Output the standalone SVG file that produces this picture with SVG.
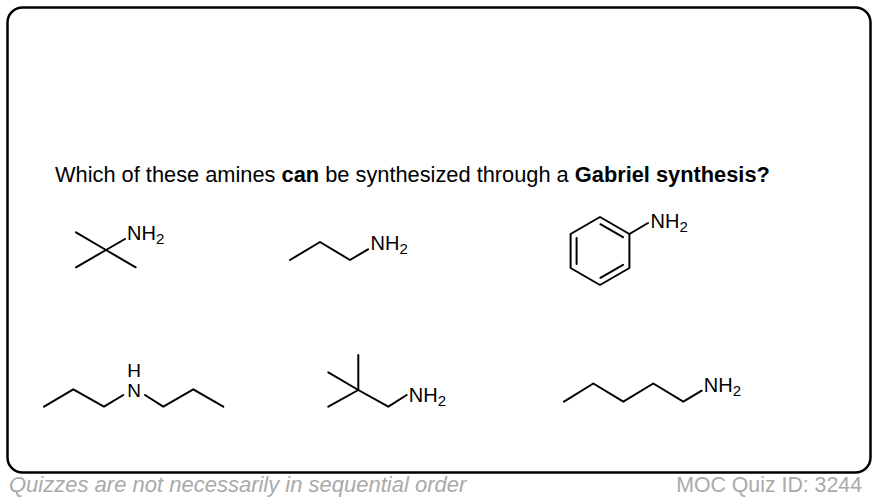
<svg xmlns="http://www.w3.org/2000/svg" width="880" height="502" viewBox="0 0 880 502">
<style>
.b{stroke:#000;stroke-width:2;fill:none;stroke-linecap:round;stroke-linejoin:round}
.lbl{font-family:"Liberation Sans",Arial,Helvetica,sans-serif;font-size:20px;fill:#000}
.sub{font-size:15px}
.title{font-family:"Liberation Sans",Arial,Helvetica,sans-serif;font-size:21.8px;fill:#000}
.foot{font-family:"Liberation Sans",Arial,Helvetica,sans-serif;font-size:22px;fill:#aaaaaa}
</style>
<rect x="7.5" y="7.5" width="863" height="465" rx="15" ry="15" fill="#fff" stroke="#000" stroke-width="2.5"/>
<text class="title" x="55" y="182">Which of these amines <tspan font-weight="bold">can</tspan> be synthesized through a <tspan font-weight="bold">Gabriel synthesis?</tspan></text>
<g id="connectors">
</g>
<g id="tert-butylamine">
<polyline class="b" points="76,232.3 106,250 135.7,267.3"/>
<polyline class="b" points="76,267.3 106,250 125,239"/>
<text class="lbl" x="127" y="240">NH<tspan class="sub" dy="4">2</tspan></text>
</g>
<g id="propylamine">
<polyline class="b" points="290,260 320,242 350,260 368,249.3"/>
<text class="lbl" x="370.5" y="250">NH<tspan class="sub" dy="4">2</tspan></text>
</g>
<g id="aniline">
<polygon class="b" points="600,217 629.4,234 629.4,268 600,285 570.6,268 570.6,234"/>
<line class="b" x1="600.4" y1="224.2" x2="623" y2="237.2"/>
<line class="b" x1="576.6" y1="238" x2="576.6" y2="264"/>
<line class="b" x1="623" y1="264.8" x2="600.4" y2="277.8"/>
<line class="b" x1="629.4" y1="234" x2="648" y2="223"/>
<text class="lbl" x="650.5" y="228.3">NH<tspan class="sub" dy="4">2</tspan></text>
</g>
<g id="dipropylamine">
<polyline class="b" points="44,406.7 73.3,389.3 104,406.7 123.3,395"/>
<polyline class="b" points="145,395 163.3,406.7 193.3,389.3 223.3,406.7"/>
<text class="lbl" text-anchor="middle" style="font-size:19px"><tspan x="134" y="376.5">H</tspan><tspan x="134" y="397.3">N</tspan></text>
</g>
<g id="neopentylamine">
<line class="b" x1="358.3" y1="355" x2="358.3" y2="390"/>
<polyline class="b" points="328.3,372.3 358.3,390 388.3,406.7 406.7,395"/>
<line class="b" x1="328.3" y1="406.7" x2="358.3" y2="390"/>
<text class="lbl" x="408.8" y="401.7">NH<tspan class="sub" dy="4">2</tspan></text>
</g>
<g id="pentylamine">
<polyline class="b" points="564,401.7 593.3,383.5 623.3,401.7 653.3,383.5 683.3,401.7 701.7,390.7"/>
<text class="lbl" x="703.8" y="391.7">NH<tspan class="sub" dy="4">2</tspan></text>
</g>
<text class="foot" x="9" y="492" font-style="italic">Quizzes are not necessarily in sequential order</text>
<text class="foot" x="862" y="492" text-anchor="end" style="font-size:21.3px">MOC Quiz ID: 3244</text>
</svg>
